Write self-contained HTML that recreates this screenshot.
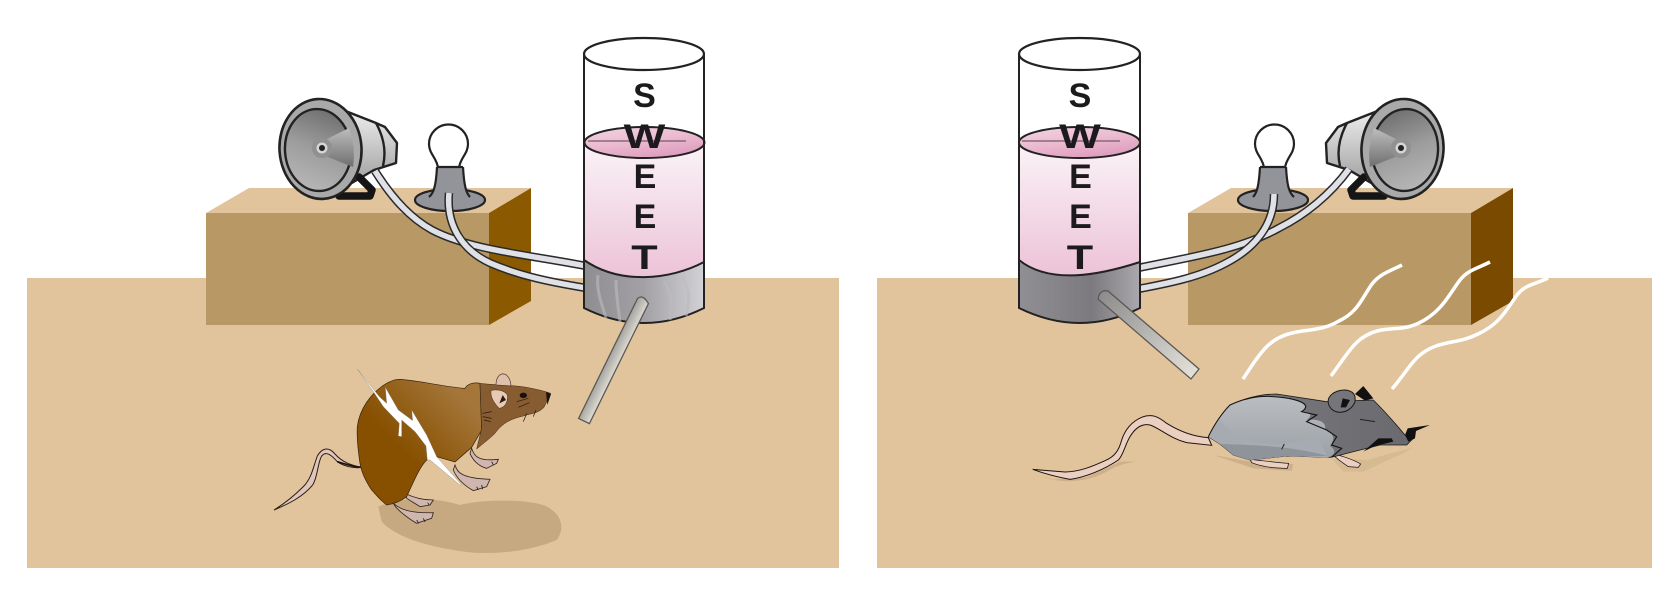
<!DOCTYPE html>
<html><head><meta charset="utf-8"><style>
html,body{margin:0;padding:0;background:#fff;width:1669px;height:590px;overflow:hidden}
svg{display:block}
text{font-family:"Liberation Sans",sans-serif;font-weight:bold;font-size:34px;fill:#1c1a1c;text-anchor:middle}
</style></head><body>
<svg width="1669" height="590" viewBox="0 0 1669 590" xmlns="http://www.w3.org/2000/svg">
<defs>
<linearGradient id="liq" x1="0" y1="0" x2="0" y2="1"><stop offset="0" stop-color="#fbf3f7"/><stop offset=".5" stop-color="#f3dbe7"/><stop offset="1" stop-color="#ecc3d7"/></linearGradient>
<linearGradient id="surf" x1="0" y1="0" x2=".5" y2="1"><stop offset="0" stop-color="#f2d5e2"/><stop offset=".5" stop-color="#ecbdd2"/><stop offset="1" stop-color="#df9fbf"/></linearGradient>
<linearGradient id="g1" x1="0" y1="0" x2="1" y2="0"><stop offset="0" stop-color="#8e8d90"/><stop offset=".5" stop-color="#a3a1a5"/><stop offset="1" stop-color="#d2d1d5"/></linearGradient>
<linearGradient id="g2" x1="0" y1="0" x2="1" y2="0"><stop offset="0" stop-color="#908f93"/><stop offset=".6" stop-color="#7c7a7f"/><stop offset="1" stop-color="#aaa8ac"/></linearGradient>
<linearGradient id="t1" gradientUnits="userSpaceOnUse" x1="638" y1="298.400" x2="648.400" y2="303.600"><stop offset="0" stop-color="#a5a39e"/><stop offset="1" stop-color="#dcd9d1"/></linearGradient>
<linearGradient id="t2" gradientUnits="userSpaceOnUse" x1="1103" y1="295" x2="1194" y2="376"><stop offset="0" stop-color="#8f8e8e"/><stop offset="1" stop-color="#e4e1da"/></linearGradient>
<linearGradient id="cone" x1="0" y1="0" x2="0" y2="1"><stop offset="0" stop-color="#ececec"/><stop offset="1" stop-color="#a0a0a0"/></linearGradient>
<linearGradient id="horn" x1=".3" y1="1" x2=".7" y2="0"><stop offset="0" stop-color="#b8b8b8"/><stop offset=".5" stop-color="#9c9c9c"/><stop offset="1" stop-color="#6e6e6e"/></linearGradient>
<linearGradient id="wedge" x1="0" y1="0" x2="0" y2="1"><stop offset="0" stop-color="#bdbdbd"/><stop offset="1" stop-color="#6f6f6f"/></linearGradient>
<linearGradient id="rat" x1="0" y1="1" x2="1" y2="0"><stop offset=".4" stop-color="#875000"/><stop offset=".85" stop-color="#a4763a"/></linearGradient>
<linearGradient id="mg" x1="0" y1="0" x2="0" y2="1"><stop offset="0" stop-color="#babdc1"/><stop offset="1" stop-color="#9ba0a5"/></linearGradient>
<linearGradient id="md" x1="0" y1="0" x2="1" y2="0"><stop offset="0" stop-color="#7c7c80"/><stop offset="1" stop-color="#6a6a6e"/></linearGradient>

<g id="speaker">
 <path d="M348 112 L376 123 L385 127 L397 143 L396 163 L374 170 L350 184Z" fill="url(#cone)" stroke="#222" stroke-width="2.400" stroke-linejoin="round"/>
 <path d="M376 123 Q388 145 383 166" fill="none" stroke="#222" stroke-width="2.400"/>
 <path d="M359 177 L372 190 L370 196 L339 196" fill="none" stroke="#151515" stroke-width="7.500" stroke-linejoin="round" stroke-linecap="round"/>
 <ellipse cx="320.500" cy="149" rx="41" ry="50" transform="rotate(-4 320 149)" fill="#a9a9a9" stroke="#222" stroke-width="2.600"/>
 <ellipse cx="318" cy="150" rx="33" ry="41" transform="rotate(-4 318 150)" fill="url(#horn)" stroke="#222" stroke-width="2.400"/>
 <path d="M323 141 L349 128 Q356 148 353 167 L323 155Z" fill="url(#wedge)"/>
 <circle cx="322" cy="148" r="10" fill="#909090"/><circle cx="322" cy="148" r="5.500" fill="#d5d5d5"/><circle cx="322" cy="148" r="3" fill="#222"/>
</g>
<g id="bulb">
 <path d="M438 168 C437 158 429 154 429 144 A19.500 19.500 0 1 1 468 144 C468 154 460 158 459 168Z" fill="#fff" stroke="#222" stroke-width="2.200"/>
 <ellipse cx="450" cy="200" rx="35" ry="11" fill="#93949a" stroke="#222" stroke-width="2.200"/>
 <path d="M437 167 H463 C464 185 466 193 470 197 L430 197 C434 193 436 185 437 167Z" fill="#93949a"/>
 <path d="M437 167 H463 M437 167 C436 185 434 193 429 197 M463 167 C464 185 466 193 470 197" fill="none" stroke="#222" stroke-width="2.200"/>
</g>
</defs>

<rect x="27" y="278" width="812" height="290" fill="#e2c49c"/>
<rect x="877" y="278" width="775" height="290" fill="#e2c49c"/>

<polygon points="249,188 531,188 489,213 206,213" fill="#e2c49c"/>
<rect x="206" y="213" width="283" height="112" fill="#b89966"/>
<polygon points="489,213 531,188 531,301 489,325" fill="#8b5a00"/>
<polygon points="1231,188 1513,188 1471,213 1188,213" fill="#e2c49c"/>
<rect x="1188" y="213" width="283" height="112" fill="#b89966"/>
<polygon points="1471,213 1513,188 1513,301 1471,325" fill="#7a4a00"/>

<use href="#bulb"/>
<use href="#bulb" transform="translate(1723,0) scale(-1,1)"/>
<use href="#speaker"/>
<use href="#speaker" transform="translate(1723,0) scale(-1,1)"/>

<g fill="none">
 <path d="M375 171 C392 198 410 218 432 230 C470 250 530 255 586 266" stroke="#2a2a2a" stroke-width="8.500"/>
 <path d="M375 171 C392 198 410 218 432 230 C470 250 530 255 586 266" stroke="#e0e1e7" stroke-width="5.500"/>
 <path d="M449 193 C446 225 462 250 490 263 C520 276 550 282 586 288" stroke="#2a2a2a" stroke-width="8.500"/>
 <path d="M449 193 C446 225 462 250 490 263 C520 276 550 282 586 288" stroke="#e0e1e7" stroke-width="5.500"/>
 <path d="M1349 169 C1330 195 1305 215 1279 228 C1240 250 1190 257 1138 268" stroke="#2a2a2a" stroke-width="8.500"/>
 <path d="M1349 169 C1330 195 1305 215 1279 228 C1240 250 1190 257 1138 268" stroke="#e0e1e7" stroke-width="5.500"/>
 <path d="M1274 194 C1274 225 1255 248 1226 263 C1200 277 1170 283 1138 289" stroke="#2a2a2a" stroke-width="8.500"/>
 <path d="M1274 194 C1274 225 1255 248 1226 263 C1200 277 1170 283 1138 289" stroke="#e0e1e7" stroke-width="5.500"/>
</g>

<!-- left cylinder -->
<path d="M584 142 V260 C620 285 670 280 704 262 V142 A60 16 0 0 1 584 142Z" fill="url(#liq)"/>
<ellipse cx="644.500" cy="142.500" rx="60" ry="15.500" fill="url(#surf)" stroke="#222" stroke-width="2"/>
<path d="M588 141 H686" stroke="#8a6a7a" stroke-width="1.500"/>
<path d="M584 260 C620 285 670 280 704 262 V308 Q644 338 584 308Z" fill="url(#g1)" stroke="#222" stroke-width="2"/>
<g fill="none" stroke="#bdbbbe" stroke-width="3" opacity=".6"><path d="M598 275 C596 290 602 305 606 318"/><path d="M616 280 C616 295 618 305 620 322"/><path d="M664 281 C672 295 672 305 670 320"/><path d="M682 276 C690 290 690 300 686 316"/></g>
<path d="M584 54 V308 M704 54 V308" stroke="#222" stroke-width="2" fill="none"/>
<ellipse cx="644" cy="54" rx="60" ry="16" fill="#fff" stroke="#222" stroke-width="2.200"/>
<path d="M637.600 298.400 Q643 294 648.400 303.600 L589.400 423.600 L578.600 418.400Z" fill="url(#t1)" stroke="#5a5954" stroke-width="1.300"/>

<!-- right cylinder -->
<path d="M1019 142 V260 C1050 285 1100 275 1140 262 V142 A60.500 16 0 0 1 1019 142Z" fill="url(#liq)"/>
<ellipse cx="1079.500" cy="142.500" rx="60.500" ry="15.500" fill="url(#surf)" stroke="#222" stroke-width="2"/>
<path d="M1022 141 H1120" stroke="#8a6a7a" stroke-width="1.500"/>
<path d="M1019 260 C1050 285 1100 275 1140 262 V308 Q1080 338 1019 308Z" fill="url(#g2)" stroke="#222" stroke-width="2"/>
<path d="M1019 54 V308 M1140 54 V308" stroke="#222" stroke-width="2" fill="none"/>
<ellipse cx="1079.500" cy="54" rx="60.500" ry="16" fill="#fff" stroke="#222" stroke-width="2.200"/>
<path d="M1098 299 Q1100 289 1108 291 L1199 369 L1191 379Z" fill="url(#t2)" stroke="#5a5954" stroke-width="1.300"/>

<!-- labels -->
<text x="644.500" y="107">S</text>
<text transform="translate(644.500 148) scale(1.300 1)">W</text>
<text x="645" y="188">E</text>
<text x="645" y="228">E</text>
<text transform="translate(644.500 269) scale(1.270 1)">T</text>
<text x="1080" y="107">S</text>
<text transform="translate(1080 148) scale(1.300 1)">W</text>
<text x="1080.500" y="188">E</text>
<text x="1080.500" y="228">E</text>
<text transform="translate(1080 269) scale(1.270 1)">T</text>

<g fill="none" stroke="#fff" stroke-width="3.500">
 <path d="M1402 265 C1388 272 1380 274 1372 284 C1362 298 1358 312 1339 321 C1322 331 1308 329 1292 333 C1270 338 1262 350 1243 379"/>
 <path d="M1490 262 C1476 269 1468 270 1460 280 C1450 293 1442 312 1419 323 C1402 331 1392 327 1377 331 C1356 337 1350 350 1331 376"/>
 <path d="M1548 278 C1534 285 1526 284 1517 295 C1507 309 1500 324 1478 334 C1462 342 1450 341 1436 346 C1414 354 1410 368 1392 389"/>
</g>

<!-- rat -->
<g transform="translate(260,350) scale(.33333)">
 <path d="M355 470 C420 440 520 440 600 465 C650 450 780 445 850 465 C900 485 920 530 890 570 C820 600 720 615 630 607 C520 595 410 565 365 515Z" fill="#c6a981"/>
 <path d="M305 352 C270 345 245 335 225 312 C205 288 185 295 172 318 C160 350 155 385 130 410 C105 435 75 460 42 480 C85 462 130 440 158 405 C174 380 172 340 185 318 C198 302 214 315 232 335 C250 348 280 356 305 352Z" fill="#dfc6bd" stroke="#2c1d14" stroke-width="3"/>
 <path d="M305 352 C275 350 250 340 232 335" fill="none" stroke="#1c120c" stroke-width="5"/>
 <path d="M635 295 C642 318 655 335 715 328 L710 340 L680 355 C660 350 640 335 630 310Z" fill="#cfb6ae" stroke="#33251e" stroke-width="2.500"/>
 <path d="M585 345 C592 365 600 385 690 388 L680 410 L640 422 C610 405 590 385 580 360Z" fill="#cfb6ae" stroke="#33251e" stroke-width="2.500"/>
 <path d="M435 430 C465 445 490 450 520 450 L510 465 L480 470 C465 460 450 452 440 445Z" fill="#cfb6ae" stroke="#33251e" stroke-width="2.500"/>
 <path d="M400 460 C420 478 450 490 520 488 L515 505 L470 520 C445 505 420 485 408 472Z" fill="#cfb6ae" stroke="#33251e" stroke-width="2.500"/>
 <path d="M650 410 L655 420 M665 405 L668 418 M470 510 L476 520 M490 505 L495 516 M695 335 L700 345 M503 458 L508 466" stroke="#222" stroke-width="2.500" fill="none"/>
 <path d="M420 88 C480 92 560 112 615 115 C622 102 640 96 660 100 L665 240 L635 292 L585 336 L530 320 L500 330 C480 350 465 385 440 440 C420 455 400 462 380 465 C355 445 345 430 335 420 C318 395 305 370 300 340 C294 300 290 262 292 230 C298 180 330 130 380 100 C395 92 405 88 420 88Z" fill="url(#rat)" stroke="#3a2610" stroke-width="2.200"/>
 <path d="M660 100 C700 105 760 105 800 112 C830 118 850 122 872 130 L852 172 C835 190 815 190 790 198 C760 205 730 215 705 250 C690 265 670 280 650 297 L665 235Z" fill="#875c30" stroke="#3a2610" stroke-width="1.500"/>
 <path d="M858 126 L873 132 L862 165Z" fill="#1a120c"/>
 <path d="M708 105 C708 80 722 66 738 74 C750 85 752 95 753 108Z" fill="#dfc0ac" stroke="#4a3526" stroke-width="2"/>
 <path d="M693 122 C710 116 735 122 742 135 C745 150 738 172 718 175 C708 165 690 145 693 122Z" fill="#e8c9b6" stroke="#3a2618" stroke-width="1.500"/>
 <path d="M718 160 L728 135 L738 150Z" fill="#2a1a10"/>
 <ellipse cx="790" cy="136" rx="11" ry="8" fill="#17100c"/>
 <path d="M770 155 L805 145 M775 172 L808 158 M668 190 L695 185 M668 200 L695 205 M672 210 L692 215 M790 215 L800 190 M820 200 L828 180" stroke="#2a1a10" stroke-width="2.200" fill="none"/>
 <polygon points="292,57 358,140 380,160 376,112 415,180 458,212 455,180 500,255 530,320 605,405 600,405 510,330 502,330 498,288 465,245 425,210 425,260 415,258 418,220 370,170 340,125" fill="#fff" stroke="#777" stroke-width="1"/>
</g>

<!-- mouse -->
<g transform="translate(1020,370) scale(.33333)">
 <path d="M70 320 C120 342 200 338 260 305 C290 285 320 280 348 274 L300 275 L200 322 L100 328Z" fill="#cdb089"/>
 <path d="M580 255 L690 275 L820 282 L815 303 L700 295Z" fill="#cdb089"/>
 <path d="M935 265 L1040 270 L1180 232 L1150 250 L1030 305 L970 305Z" fill="#d6ba92"/>
 <path d="M565 203 C520 200 480 185 440 160 C415 140 395 130 365 142 C335 155 315 180 305 210 C297 240 285 260 255 272 C215 290 180 305 135 306 L38 298 C70 310 105 320 150 328 C195 322 250 300 295 270 C310 255 315 225 330 200 C345 175 365 160 390 165 C420 175 450 205 500 218 L575 226Z" fill="#ebcfc1" stroke="#1a1412" stroke-width="3"/>
 <path d="M690 268 C730 272 770 278 806 280 L802 295 C770 295 730 292 695 278Z" fill="#ebcfc1" stroke="#1a1412" stroke-width="2.200"/>
 <path d="M955 255 C975 262 1000 268 1022 282 L1015 292 L985 290 C970 280 955 270 945 260Z" fill="#ebcfc1" stroke="#1a1412" stroke-width="2.200"/>
 <path d="M565 200 C585 160 610 125 630 105 C680 82 730 72 770 72 L920 95 L1060 90 C1085 115 1130 165 1155 195 L1180 205 L1160 225 L1080 225 L1020 240 L950 258 L930 262 L800 258 L690 270 L640 255 L600 222Z" fill="url(#md)" stroke="#1a1a1a" stroke-width="2.500"/>
 <path d="M565 200 C585 160 610 125 630 105 C680 82 730 72 805 85 C825 90 880 100 845 125 C870 125 880 135 860 150 C890 145 920 155 915 175 C935 190 950 200 930 228 C950 240 945 255 925 262 L800 258 L690 270 L640 255 L600 222Z" fill="url(#mg)"/>
 <path d="M600 150 C640 215 760 245 890 200 L925 262 L800 258 L690 270 L640 255 L600 222 L565 200Z" fill="#a6abb1"/>
 <path d="M600 222 C680 225 800 225 925 258 L800 258 L690 270 L640 255Z" fill="#8e949a"/>
 <path d="M805 85 C830 90 880 102 845 125 L890 135 L860 155 L920 180 L950 200 L935 225 L965 235 L935 262" fill="none" stroke="#151515" stroke-width="3.500"/>
 <path d="M565 200 C585 160 610 125 630 105 C680 82 730 72 805 85" fill="none" stroke="#141414" stroke-width="3"/>
 <path d="M925 100 C920 78 945 60 975 60 C1000 62 1008 75 1005 95 C990 135 935 138 925 100Z" fill="#76767a" stroke="#1a1a1a" stroke-width="3"/>
 <path d="M962 112 L968 85 L990 90 L978 112Z" fill="#111"/>
 <path d="M1005 72 L1030 48 L1060 85 L1035 92Z" fill="#111"/>
 <path d="M1155 195 L1163 175 L1230 165 L1188 183 L1185 205 L1165 215Z" fill="#111"/>
 <path d="M1030 245 L1075 205 L1115 205 L1120 215 L1065 228Z" fill="#111"/>
 <path d="M1020 148 L1065 155" stroke="#222" stroke-width="3" fill="none"/>
 <path d="M785 238 L793 222" stroke="#222" stroke-width="3" fill="none"/>
</g>
</svg>
</body></html>
